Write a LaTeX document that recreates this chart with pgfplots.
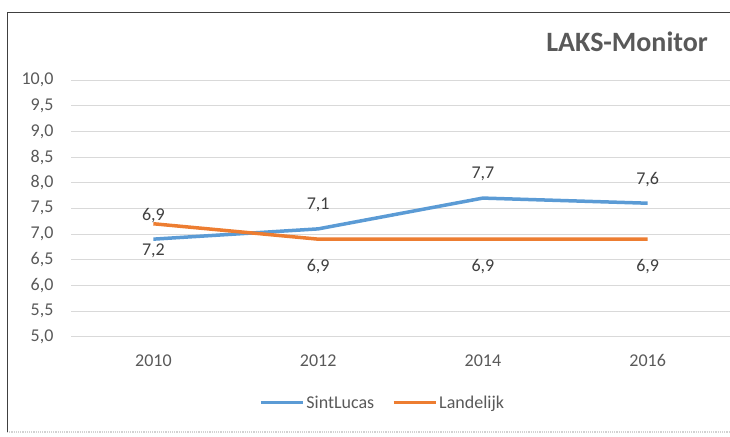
\documentclass[border=0pt]{standalone}
\usepackage{fontspec}
\setmainfont{Carlito}
\usepackage{pgfplots}
\pgfplotsset{compat=1.18}
\definecolor{lblue}{RGB}{91,155,213}
\definecolor{lorange}{RGB}{237,125,49}
\definecolor{ticktext}{RGB}{89,89,89}
\definecolor{labeltext}{RGB}{64,64,64}

\begin{document}
\begin{tikzpicture}[x=1pt,y=1pt]
\path[use as bounding box] (0,0) rectangle (730,436);

% chart frame
\draw[gray!35, line width=1.2pt, densely dotted] (7,4) -- (730,4);
\draw[black!75, line width=1pt] (730,423) -- (7,423) -- (7,4);

\node[anchor=east, inner sep=0pt, font=\bfseries\fontsize{28}{32}\selectfont, text=ticktext] at (708,394) {LAKS-Monitor};

\begin{axis}[
    at={(71pt,99.3pt)}, anchor=south west,
    width=659pt, height=256.7pt, scale only axis,
    xmin=-0.5, xmax=3.5, ymin=5, ymax=10,
    xtick={0,1,2,3}, xticklabels={2010,2012,2014,2016},
    ytick={5,5.5,6,6.5,7,7.5,8,8.5,9,9.5,10},
    ymajorgrids, grid style={gray!30, line width=0.9pt},
    axis line style={draw=none}, major tick length=0pt,
    tick label style={font=\fontsize{18}{20}\selectfont, text=ticktext},
    xticklabel style={anchor=center, yshift=-24pt},
    yticklabel style={anchor=east, xshift=-14pt},
    /pgf/number format/fixed, /pgf/number format/fixed zerofill,
    /pgf/number format/precision=1, /pgf/number format/use comma,
    /pgf/number format/assume math mode=true,
    clip=false,
    legend columns=2,
    legend style={at={(0.473,-0.258)}, anchor=center, draw=none, fill=none,
        font=\fontsize{18}{20}\selectfont, text=ticktext,
        /tikz/every even column/.append style={column sep=16pt}},
    legend image code/.code={\draw[#1, line width=3pt] (0pt,0pt) -- (42pt,0pt);},
]

% SintLucas
\addplot[color=lblue, line width=3.5pt, mark=none,
    nodes near coords,
    every node near coord/.append style={anchor=center, yshift=24pt,
        font=\fontsize{18}{20}\selectfont, text=labeltext}]
    coordinates {(0,6.9) (1,7.1) (2,7.7) (3,7.6)};
\addlegendentry{SintLucas}

% Landelijk
\addplot[color=lorange, line width=3.5pt, mark=none,
    nodes near coords,
    every node near coord/.append style={anchor=center, yshift=-27pt,
        font=\fontsize{18}{20}\selectfont, text=labeltext}]
    coordinates {(0,7.2) (1,6.9) (2,6.9) (3,6.9)};
\addlegendentry{Landelijk}

\end{axis}
\end{tikzpicture}
\end{document}
